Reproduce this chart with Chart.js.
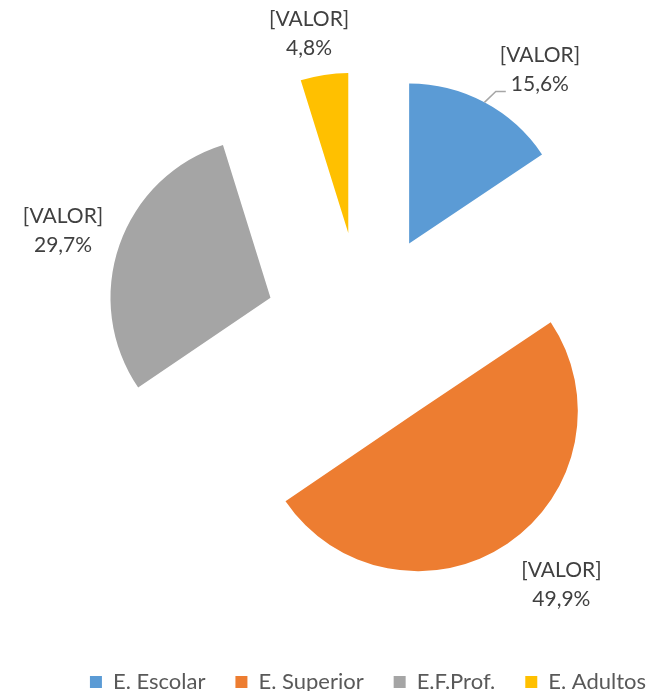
<!DOCTYPE html>
<html>
<head>
<meta charset="utf-8">
<script src="https://cdn.jsdelivr.net/npm/chart.js@4/dist/chart.umd.min.js"></script>
<style>
  html, body { margin: 0; padding: 0; background: #fff; overflow: hidden; }
  #wrap { width: 648px; height: 691px; position: relative; }
</style>
</head>
<body>
<div id="wrap"><canvas id="pie"></canvas></div>
<script>
const categories = ['E. Escolar', 'E. Superior', 'E.F.Prof.', 'E. Adultos'];
const shares = [15.6, 49.9, 29.7, 4.8];
const sliceColors = ['#5B9BD5', '#ED7D31', '#A5A5A5', '#FFC000'];
const labelTitle = '[VALOR]';

Chart.defaults.font.family = 'Lato, "Noto Sans", sans-serif';

// pushes every slice straight out along its middle angle (Excel style explode)
const explode = {
    id: 'explode',
    afterDatasetUpdate(chart, args, opts) {
        args.meta.data.forEach(arc => {
            const mid = (arc.startAngle + arc.endAngle) / 2;
            arc.x += Math.cos(mid) * opts.distance;
            arc.y += Math.sin(mid) * opts.distance;
        });
    }
};

// draws the "[VALOR] / xx,x%" labels outside each slice
const outsideLabels = {
    id: 'outsideLabels',
    afterDatasetsDraw(chart, args, opts) {
        const ctx = chart.ctx;
        const meta = chart.getDatasetMeta(0);
        const lh = opts.lineHeight;
        ctx.save();
        ctx.font = opts.size + 'px ' + Chart.defaults.font.family;
        ctx.fillStyle = opts.color;
        ctx.textAlign = 'center';
        ctx.textBaseline = 'middle';
        meta.data.forEach((arc, i) => {
            const p = arc.getProps(['x', 'y', 'startAngle', 'endAngle', 'outerRadius']);
            const mid = (p.startAngle + p.endAngle) / 2;
            const dx = Math.cos(mid), dy = Math.sin(mid);
            const dist = p.outerRadius + opts.gap;
            const px = p.x + dx * dist, py = p.y + dy * dist;
            const line2 = shares[i].toFixed(1).replace('.', ',') + '%';
            const w = Math.max(ctx.measureText(labelTitle).width, ctx.measureText(line2).width);
            const clamp = v => Math.max(-1, Math.min(1, v));
            const nudge = opts.nudge[i] || [0, 0];
            const cx = px + clamp(dx * 2) * w / 2 + nudge[0];
            const cy = py + clamp(dy * 2) * lh + nudge[1];
            ctx.fillText(labelTitle, cx, cy - lh / 2);
            ctx.fillText(line2, cx, cy + lh / 2);
            if (opts.leaders.includes(i)) {
                const ex = p.x + dx * p.outerRadius;
                const ey = p.y + dy * p.outerRadius;
                const by = cy + lh / 2 + 7;
                const bx = cx - ctx.measureText(line2).width / 2 - 5;
                ctx.strokeStyle = '#A6A6A6';
                ctx.lineWidth = 1.5;
                ctx.beginPath();
                ctx.moveTo(ex, ey);
                ctx.lineTo(bx - 10, by);
                ctx.lineTo(bx, by);
                ctx.stroke();
            }
        });
        ctx.restore();
    }
};

new Chart(document.getElementById('pie'), {
    type: 'pie',
    data: {
        labels: categories,
        datasets: [{
            data: shares,
            backgroundColor: sliceColors,
            borderWidth: 0,
            offset: 0,
            hoverOffset: 0
        }]
    },
    options: {
        responsive: true,
        maintainAspectRatio: false,
        animation: false,
        radius: 160,
        layout: { padding: { left: 44, right: -44, top: 19, bottom: -12 } },
        plugins: {
            tooltip: { enabled: false },
            // empty spacer on the left so the pie sits right of the legend centre
            title: {
                display: true,
                position: 'left',
                text: '',
                font: { size: 10, lineHeight: 1 },
                padding: { top: 12, bottom: 12 }
            },
            legend: {
                position: 'bottom',
                labels: {
                    boxWidth: 12,
                    boxHeight: 12,
                    padding: 30,
                    color: '#595959',
                    font: { size: 22 }
                }
            },
            explode: { distance: 98 },
            outsideLabels: {
                size: 21,
                color: '#404040',
                lineHeight: 29,
                gap: 14,
                nudge: [[11, 9], [6, 0], [-3, 10], [-1, 2]],
                leaders: [0]
            }
        }
    },
    plugins: [explode, outsideLabels]
});
</script>
</body>
</html>
